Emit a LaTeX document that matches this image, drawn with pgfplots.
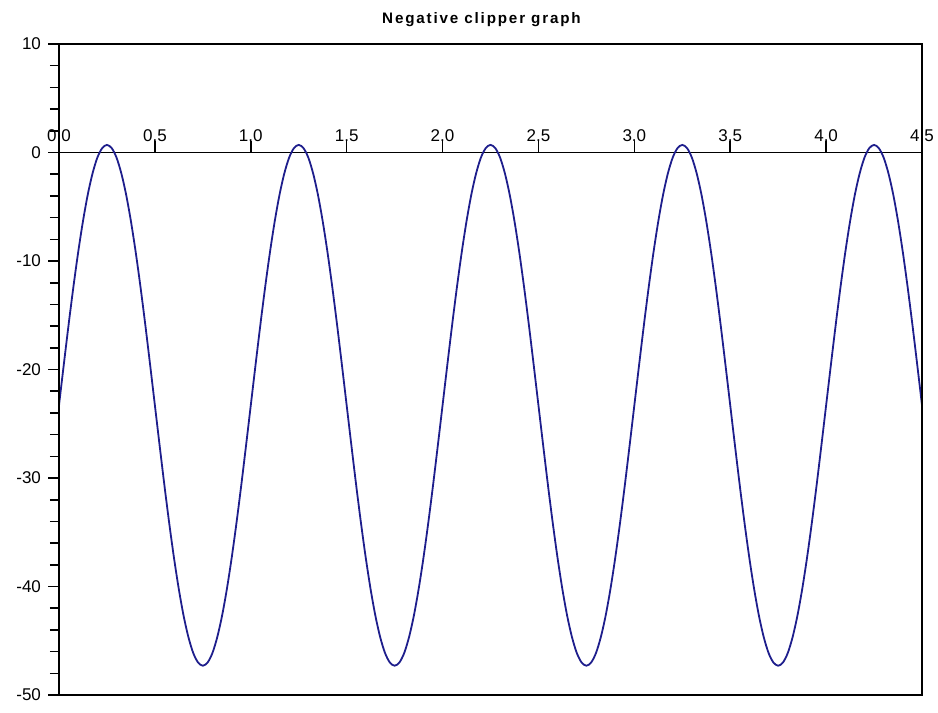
\documentclass[border=0pt]{standalone}
\usepackage{pgfplots}
\pgfplotsset{compat=1.18}
\usepackage{fontspec}
\setmainfont{Liberation Sans}
\newfontfamily\titlefont[LetterSpace=12]{Liberation Sans}
\definecolor{curve}{RGB}{30,30,140}
\begin{document}
\begin{tikzpicture}
\begin{axis}[
  scale only axis,
  width=431.5pt, height=325.5pt,
  xmin=0, xmax=4.5, ymin=-50, ymax=10,
  axis x line*=middle, axis y line*=left,
  hide obscured x ticks=false, hide obscured y ticks=false,
  axis line style={black, line width=0.9pt},
  xtick={0,0.5,...,4.5},
  ytick={-50,-40,...,10},
  minor y tick num=4,
  xtick align=inside, ytick align=outside,
  major tick length=5.5pt, minor tick length=4.5pt,
  x tick style={black, line width=0.8pt},
  y tick style={black, line width=0.8pt},
  /pgf/number format/assume math mode=true,
  /pgf/number format/fixed, /pgf/number format/fixed zerofill, /pgf/number format/precision=1,
  yticklabel style={/pgf/number format/precision=0, /pgf/number format/fixed zerofill=false},
  tick label style={font=\fontsize{8.5}{10}\selectfont},
  xticklabel style={anchor=south, yshift=2pt},
  title={\titlefont\bfseries\fontsize{7.6}{9}\selectfont Negative clipper graph},
  title style={xshift=-4.5pt, yshift=-1pt},
  clip=false,
  after end axis/.code={\draw[black, line width=0.9pt] (rel axis cs:0,0) rectangle (rel axis cs:1,1);},
]
\addplot[curve, line width=0.9pt, smooth, tension=0.5] table {
x y
0.000 -23.30
0.025 -19.55
0.050 -15.88
0.075 -12.40
0.100 -9.19
0.125 -6.33
0.150 -3.88
0.175 -1.92
0.200 -0.47
0.225 0.40
0.250 0.70
0.275 0.40
0.300 -0.47
0.325 -1.92
0.350 -3.88
0.375 -6.33
0.400 -9.19
0.425 -12.40
0.450 -15.88
0.475 -19.55
0.500 -23.30
0.525 -27.05
0.550 -30.72
0.575 -34.20
0.600 -37.41
0.625 -40.27
0.650 -42.72
0.675 -44.68
0.700 -46.13
0.725 -47.00
0.750 -47.30
0.775 -47.00
0.800 -46.13
0.825 -44.68
0.850 -42.72
0.875 -40.27
0.900 -37.41
0.925 -34.20
0.950 -30.72
0.975 -27.05
1.000 -23.30
1.025 -19.55
1.050 -15.88
1.075 -12.40
1.100 -9.19
1.125 -6.33
1.150 -3.88
1.175 -1.92
1.200 -0.47
1.225 0.40
1.250 0.70
1.275 0.40
1.300 -0.47
1.325 -1.92
1.350 -3.88
1.375 -6.33
1.400 -9.19
1.425 -12.40
1.450 -15.88
1.475 -19.55
1.500 -23.30
1.525 -27.05
1.550 -30.72
1.575 -34.20
1.600 -37.41
1.625 -40.27
1.650 -42.72
1.675 -44.68
1.700 -46.13
1.725 -47.00
1.750 -47.30
1.775 -47.00
1.800 -46.13
1.825 -44.68
1.850 -42.72
1.875 -40.27
1.900 -37.41
1.925 -34.20
1.950 -30.72
1.975 -27.05
2.000 -23.30
2.025 -19.55
2.050 -15.88
2.075 -12.40
2.100 -9.19
2.125 -6.33
2.150 -3.88
2.175 -1.92
2.200 -0.47
2.225 0.40
2.250 0.70
2.275 0.40
2.300 -0.47
2.325 -1.92
2.350 -3.88
2.375 -6.33
2.400 -9.19
2.425 -12.40
2.450 -15.88
2.475 -19.55
2.500 -23.30
2.525 -27.05
2.550 -30.72
2.575 -34.20
2.600 -37.41
2.625 -40.27
2.650 -42.72
2.675 -44.68
2.700 -46.13
2.725 -47.00
2.750 -47.30
2.775 -47.00
2.800 -46.13
2.825 -44.68
2.850 -42.72
2.875 -40.27
2.900 -37.41
2.925 -34.20
2.950 -30.72
2.975 -27.05
3.000 -23.30
3.025 -19.55
3.050 -15.88
3.075 -12.40
3.100 -9.19
3.125 -6.33
3.150 -3.88
3.175 -1.92
3.200 -0.47
3.225 0.40
3.250 0.70
3.275 0.40
3.300 -0.47
3.325 -1.92
3.350 -3.88
3.375 -6.33
3.400 -9.19
3.425 -12.40
3.450 -15.88
3.475 -19.55
3.500 -23.30
3.525 -27.05
3.550 -30.72
3.575 -34.20
3.600 -37.41
3.625 -40.27
3.650 -42.72
3.675 -44.68
3.700 -46.13
3.725 -47.00
3.750 -47.30
3.775 -47.00
3.800 -46.13
3.825 -44.68
3.850 -42.72
3.875 -40.27
3.900 -37.41
3.925 -34.20
3.950 -30.72
3.975 -27.05
4.000 -23.30
4.025 -19.55
4.050 -15.88
4.075 -12.40
4.100 -9.19
4.125 -6.33
4.150 -3.88
4.175 -1.92
4.200 -0.47
4.225 0.40
4.250 0.70
4.275 0.40
4.300 -0.47
4.325 -1.92
4.350 -3.88
4.375 -6.33
4.400 -9.19
4.425 -12.40
4.450 -15.88
4.475 -19.55
4.500 -23.30
};
\end{axis}
\pgfresetboundingbox
\path ([shift={(-29.5pt,-8.5pt)}]current axis.south west) rectangle ([shift={(8pt,22pt)}]current axis.north east);
\end{tikzpicture}
\end{document}
